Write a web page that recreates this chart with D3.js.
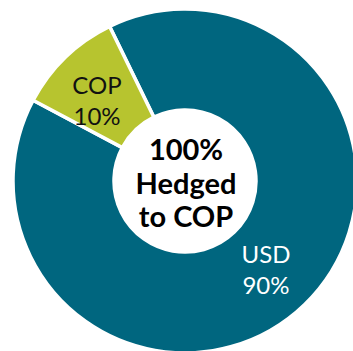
<!DOCTYPE html>
<html>
<head>
<meta charset="utf-8">
<script src="https://cdn.jsdelivr.net/npm/d3@7"></script>
<style>
  html, body { margin: 0; padding: 0; background: #fff; }
  svg { display: block; }
</style>
</head>
<body>
<svg id="chart" width="353" height="351"></svg>
<script>
// Currency split of the hedged exposure
const categories = ["USD", "COP"];
const shares = [90, 10];
const sliceColors = ["#00667f", "#b7c42f"];
const centerLines = ["100%", "Hedged", "to COP"];

const svg = d3.select("#chart");
const cx = 185, cy = 181;
const outerR = 172, innerR = 71;

const g = svg.append("g").attr("transform", `translate(${cx},${cy})`);

const rot = -26 * Math.PI / 180;
const pie = d3.pie().sort(null).value(d => d.v)
  .startAngle(rot).endAngle(rot + 2 * Math.PI);
const data = categories.map((c, i) => ({ c, v: shares[i], col: sliceColors[i] }));
const arcs = pie(data);

const arc = d3.arc().innerRadius(innerR).outerRadius(outerR);

g.selectAll("path.slice").data(arcs).join("path")
  .attr("class", "slice")
  .attr("d", arc)
  .attr("fill", d => d.data.col)
  .attr("stroke", "#fff")
  .attr("stroke-width", 3.5)
  .attr("stroke-linejoin", "miter");

// Slice labels
const labelPos = {
  USD: { x: 266 - cx, y: 263 - cy, fill: "#fff" },
  COP: { x: 97 - cx, y: 94 - cy, fill: "#111" }
};
arcs.forEach(d => {
  const p = labelPos[d.data.c];
  const t = g.append("text")
    .attr("text-anchor", "middle")
    .attr("font-family", "Lato, 'Open Sans', sans-serif")
    .attr("font-size", 24)
    .attr("fill", p.fill);
  t.append("tspan").attr("x", p.x).attr("y", p.y).text(d.data.c);
  t.append("tspan").attr("x", p.x).attr("y", p.y + 31).text(d.data.v + "%");
});

// Center caption
const ct = g.append("text")
  .attr("text-anchor", "middle")
  .attr("font-family", "Lato, 'Open Sans', sans-serif")
  .attr("font-weight", "bold")
  .attr("font-size", 29)
  .attr("fill", "#000");
centerLines.forEach((s, i) => {
  ct.append("tspan").attr("x", 1).attr("y", 160 - cy + i * 33.5).text(s);
});
</script>
</body>
</html>
